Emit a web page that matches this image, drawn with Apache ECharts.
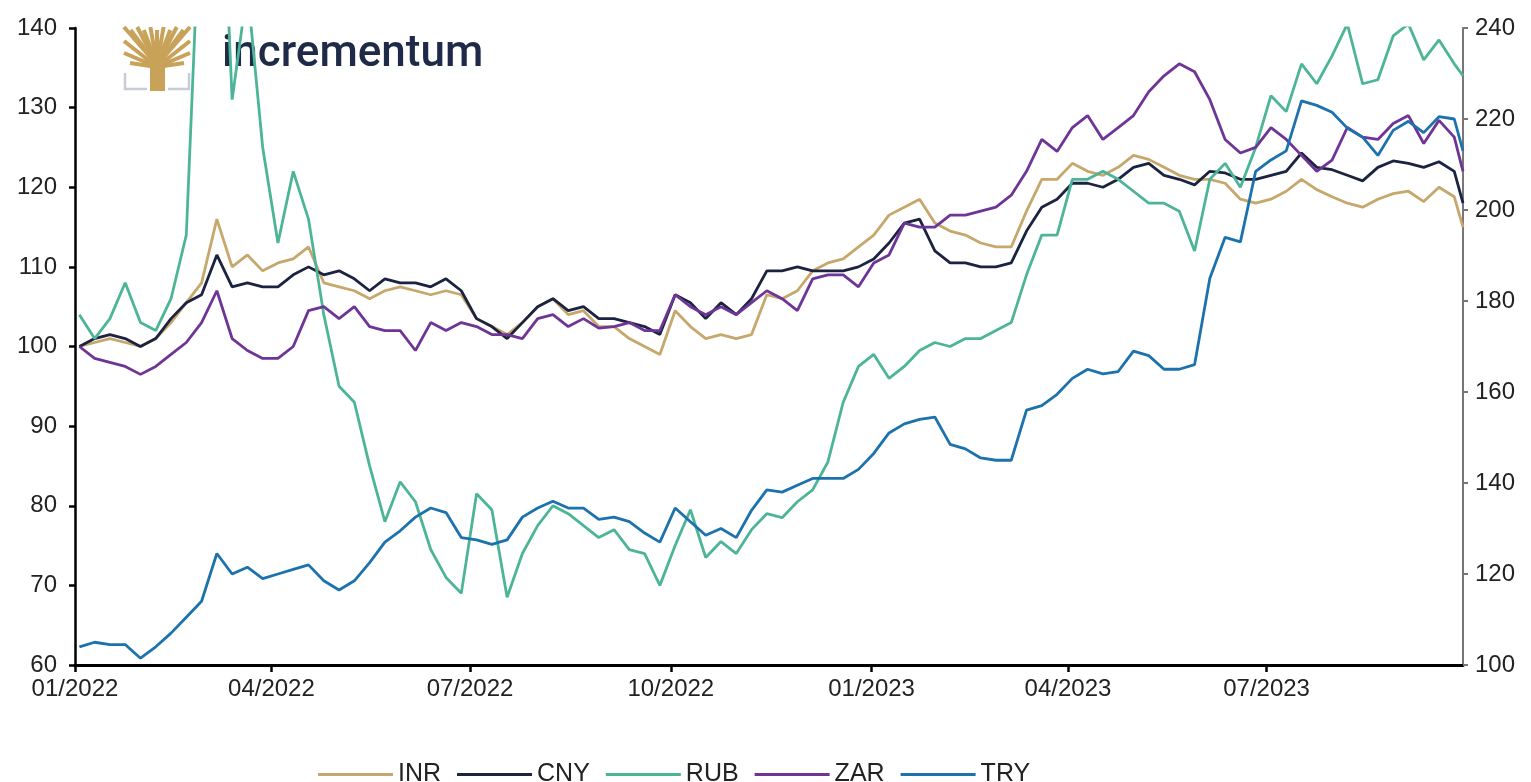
<!DOCTYPE html>
<html>
<head>
<meta charset="utf-8">
<title>Currencies priced in gold</title>
<script src="https://cdn.jsdelivr.net/npm/echarts@6/dist/echarts.min.js"></script>
<style>
html, body { margin: 0; padding: 0; background: #fff; }
#chart { width: 1531px; height: 782px; }
</style>
</head>
<body>
<div id="chart"></div>
<script>
// weekly readings (Mondays from 03.01.2022) + last day 29.09.2023
const seriesNames = ['INR', 'CNY', 'RUB', 'ZAR', 'TRY'];
const seriesColors = ['#C6A76C', '#1B2340', '#4DB597', '#6E3596', '#1B72AD'];

const inr = [100, 100.5, 101, 100.5, 100, 101, 103, 105.5, 108, 116,
  110, 111.5, 109.5, 110.5, 111, 112.5, 108, 107.5, 107, 106,
  107, 107.5, 107, 106.5, 107, 106.5, 103.5, 102.5, 101.5, 103,
  105, 106, 104, 104.5, 102.5, 102.5, 101, 100, 99, 104.5,
  102.5, 101, 101.5, 101, 101.5, 106.5, 106, 107, 109.5, 110.5,
  111, 112.5, 114, 116.5, 117.5, 118.5, 115.5, 114.5, 114, 113,
  112.5, 112.5, 117, 121, 121, 123, 122, 121.5, 122.5, 124,
  123.5, 122.5, 121.5, 121, 121, 120.5, 118.5, 118, 118.5, 119.5,
  121, 119.7, 118.8, 118, 117.5, 118.5, 119.2, 119.5, 118.2, 120,
  118.8, 115];

const cny = [100, 101, 101.5, 101, 100, 101, 103.5, 105.5, 106.5, 111.5,
  107.5, 108, 107.5, 107.5, 109, 110, 109, 109.5, 108.5, 107,
  108.5, 108, 108, 107.5, 108.5, 107, 103.5, 102.5, 101, 103,
  105, 106, 104.5, 105, 103.5, 103.5, 103, 102.5, 101.5, 106.5,
  105.5, 103.5, 105.5, 104, 106, 109.5, 109.5, 110, 109.5, 109.5,
  109.5, 110, 111, 113, 115.5, 116, 112, 110.5, 110.5, 110,
  110, 110.5, 114.5, 117.5, 118.5, 120.5, 120.5, 120, 121, 122.5,
  123, 121.5, 121, 120.3, 122, 121.8, 121, 121, 121.5, 122,
  124.3, 122.5, 122.2, 121.5, 120.8, 122.5, 123.3, 123, 122.5, 123.2,
  122, 118];

const rub = [104, 101, 103.5, 108, 103, 102, 106, 114, 160, 175,
  131, 145, 125, 113, 122, 116, 104, 95, 93, 85,
  78, 83, 80.5, 74.5, 71, 69, 81.5, 79.5, 68.5, 74,
  77.5, 80, 79, 77.5, 76, 77, 74.5, 74, 70, 75,
  79.5, 73.5, 75.5, 74, 77, 79, 78.5, 80.5, 82, 85.5,
  93, 97.5, 99, 96, 97.5, 99.5, 100.5, 100, 101, 101,
  102, 103, 109, 114, 114, 121, 121, 122, 121, 119.5,
  118, 118, 117, 112, 121, 123, 120, 125, 131.5, 129.5,
  135.5, 133, 136.5, 140.5, 133, 133.5, 139, 140.5, 136, 138.5,
  135.5, 134];

const zar = [100, 98.5, 98, 97.5, 96.5, 97.5, 99, 100.5, 103, 107,
  101, 99.5, 98.5, 98.5, 100, 104.5, 105, 103.5, 105, 102.5,
  102, 102, 99.5, 103, 102, 103, 102.5, 101.5, 101.5, 101,
  103.5, 104, 102.5, 103.5, 102.3, 102.5, 103, 102, 102, 106.5,
  105, 104, 105, 104, 105.5, 107, 106, 104.5, 108.5, 109,
  109, 107.5, 110.5, 111.5, 115.5, 115, 115, 116.5, 116.5, 117,
  117.5, 119, 122, 126, 124.5, 127.5, 129, 126, 127.5, 129,
  132, 134, 135.5, 134.5, 131, 126, 124.3, 125, 127.5, 126,
  124, 122, 123.4, 127.5, 126.3, 126, 128, 129, 125.5, 128.4,
  126.3, 122];

// right axis
const tryIdx = [104, 105, 104.5, 104.5, 101.5, 104, 107, 110.5, 114, 124.5,
  120, 121.5, 119, 120, 121, 122, 118.5, 116.5, 118.5, 122.5,
  127, 129.5, 132.5, 134.5, 133.5, 128, 127.5, 126.5, 127.5, 132.5,
  134.5, 136, 134.5, 134.5, 132, 132.5, 131.5, 129, 127, 134.5,
  131.5, 128.5, 130, 128, 134, 138.5, 138, 139.5, 141, 141,
  141, 143, 146.5, 151, 153, 154, 154.5, 148.5, 147.5, 145.5,
  145, 145, 156, 157, 159.5, 163, 165, 164, 164.5, 169,
  168, 165, 165, 166, 185, 194, 193, 208.5, 211, 213,
  224, 223, 221.5, 218, 216, 212, 217.5, 219.5, 217, 220.5,
  220, 213];

const quarterStarts = [[2022, 0], [2022, 3], [2022, 6], [2022, 9], [2023, 0], [2023, 3], [2023, 6]];

const dates = [];
for (let i = 0; i < 91; i++) dates.push(new Date(2022, 0, 3 + 7 * i).getTime());
dates.push(new Date(2023, 8, 29).getTime());

const tickValues = quarterStarts.map(q => new Date(q[0], q[1], 1).getTime());
const pairs = vals => dates.map((d, i) => [d, vals[i]]);

const chart = echarts.init(document.getElementById('chart'));

// logo: gold tree crown + trunk, grey bracket, wordmark
const gold = '#C9A259';
const treeParts = [];
for (let k = 0; k <= 10; k++) {
  treeParts.push({
    type: 'line',
    shape: { x1: 33, y1: 38, x2: k * 6.6, y2: (k % 2) * 3 },
    style: { stroke: gold, lineWidth: 4 }
  });
}
[[0, 14], [66, 14], [0, 26], [66, 26], [6, 36], [60, 36]].forEach(p => treeParts.push({
  type: 'line',
  shape: { x1: 33, y1: 40, x2: p[0], y2: p[1] },
  style: { stroke: gold, lineWidth: 4 }
}));
treeParts.push({ type: 'rect', shape: { x: 26, y: 32, width: 15, height: 32 }, style: { fill: gold } });
treeParts.push({ type: 'polyline', shape: { points: [[1, 46], [1, 62], [23, 62]] }, style: { stroke: '#C7CCD6', lineWidth: 2.5, fill: null } });
treeParts.push({ type: 'polyline', shape: { points: [[65, 46], [65, 62], [44, 62]] }, style: { stroke: '#C7CCD6', lineWidth: 2.5, fill: null } });

const fmtMonth = v => {
  const d = new Date(v);
  return String(d.getMonth() + 1).padStart(2, '0') + '/' + d.getFullYear();
};

const option = {
  animation: false,
  backgroundColor: '#fff',
  textStyle: { fontFamily: '"Liberation Sans", Arial, sans-serif' },
  graphic: [
    { type: 'group', x: 124, y: 27, z: 0, children: treeParts },
    {
      type: 'text', left: 222, top: 33, z: 0,
      style: { text: 'incrementum', font: '500 44px Roboto, "Liberation Sans", sans-serif', fill: '#1E2A48' }
    }
  ],
  grid: { left: 75, right: 68, top: 28, bottom: 117 },
  legend: {
    left: 313,
    top: 757,
    icon: 'rect',
    itemWidth: 75,
    itemHeight: 3,
    itemGap: 16,
    textStyle: { fontSize: 25, color: '#222' },
    data: seriesNames
  },
  xAxis: {
    type: 'value',
    min: new Date(2022, 0, 1).getTime(),
    max: new Date(2023, 8, 29).getTime(),
    axisLine: { lineStyle: { color: '#000', width: 3 } },
    axisTick: { show: true, customValues: tickValues, length: 7, lineStyle: { color: '#000', width: 2.5 } },
    axisLabel: { customValues: tickValues, formatter: fmtMonth, fontSize: 24, color: '#222', margin: 12 },
    splitLine: { show: false }
  },
  yAxis: [
    {
      type: 'value', min: 60, max: 140, interval: 10,
      axisLine: { show: true, lineStyle: { color: '#000', width: 2.5 } },
      axisTick: { show: true, length: 6, lineStyle: { color: '#000', width: 2.5 } },
      axisLabel: { fontSize: 24, color: '#222', margin: 18 },
      splitLine: { show: false }
    },
    {
      type: 'value', position: 'right', min: 100, max: 240, interval: 20,
      axisLine: { show: true, lineStyle: { color: '#777', width: 2 } },
      axisTick: { show: true, length: 5, lineStyle: { color: '#777', width: 2 } },
      axisLabel: { fontSize: 24, color: '#222', margin: 12 },
      splitLine: { show: false }
    }
  ],
  series: [inr, cny, rub, zar, tryIdx].map((vals, k) => ({
    name: seriesNames[k],
    type: 'line',
    yAxisIndex: k === 4 ? 1 : 0,
    data: pairs(vals),
    showSymbol: false,
    symbol: 'none',
    color: seriesColors[k],
    lineStyle: { width: 2.8, color: seriesColors[k] },
    z: 3
  }))
};

chart.setOption(option);
</script>
</body>
</html>
